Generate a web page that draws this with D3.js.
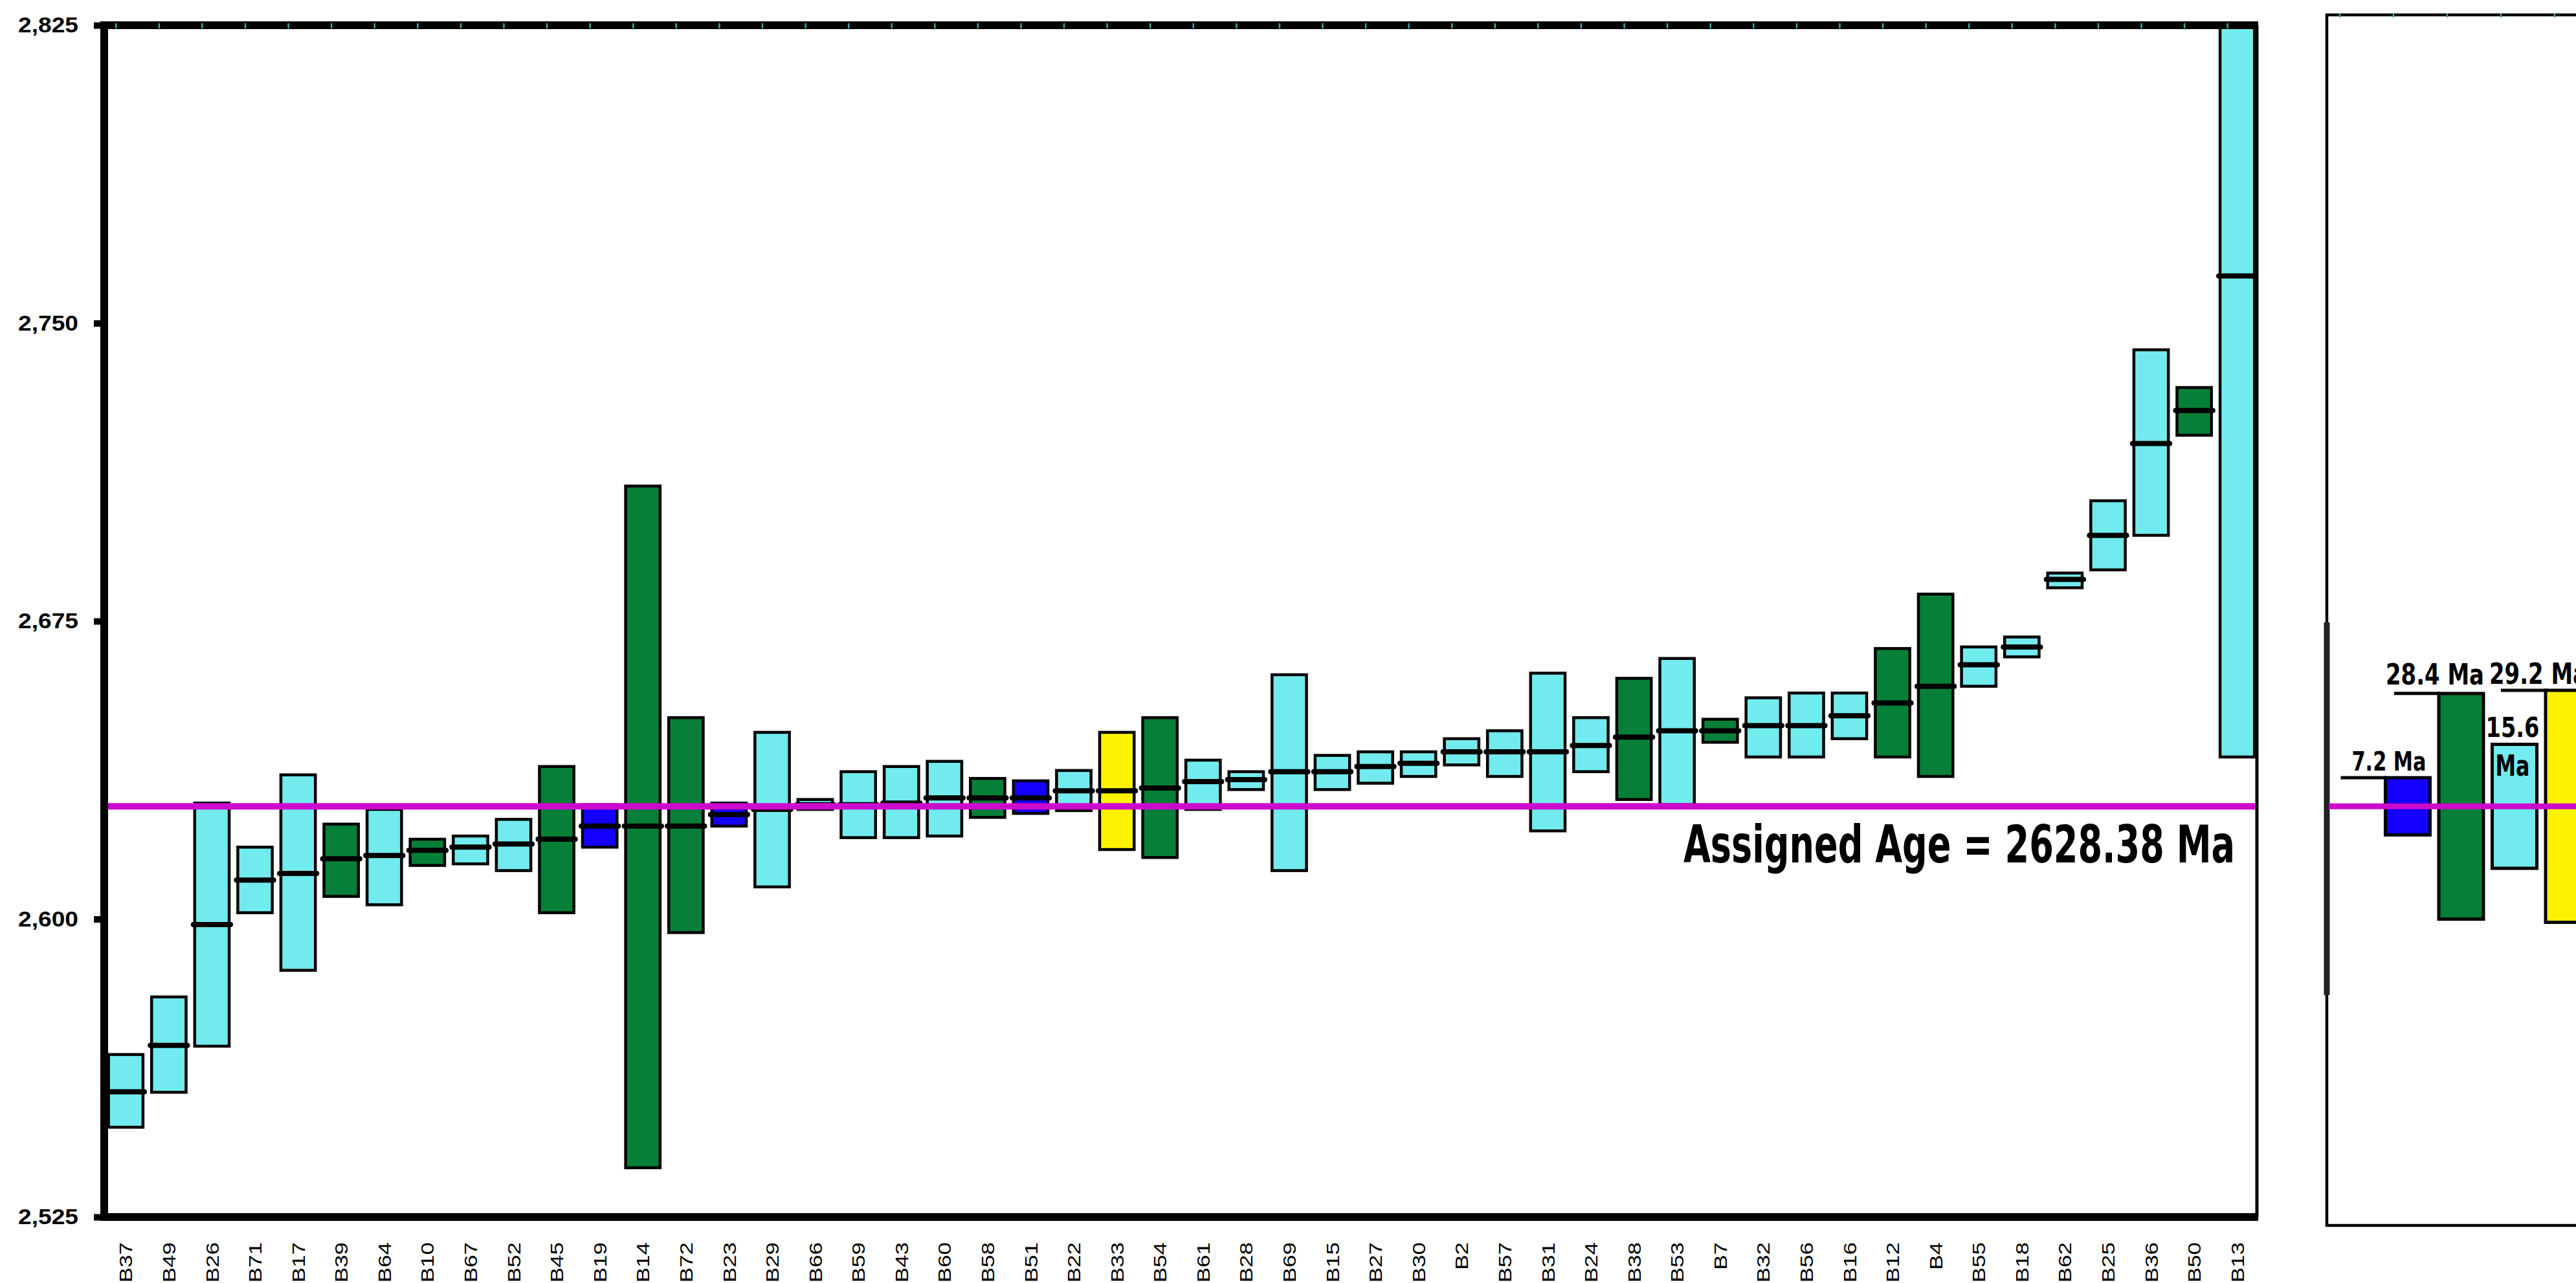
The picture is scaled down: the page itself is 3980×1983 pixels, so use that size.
<!DOCTYPE html>
<html>
<head>
<meta charset="utf-8">
<script src="https://cdn.jsdelivr.net/npm/d3@7/dist/d3.min.js"></script>
<style>
  html, body { margin: 0; padding: 0; background: #fff; }
  svg { display: block; }
</style>
</head>
<body>
<script>
// ---------------- DATA ----------------
const samples = ["B37","B49","B26","B71","B17","B39","B64","B10","B67","B52","B45","B19","B14","B72","B23","B29","B66","B59","B43","B60","B58","B51","B22","B33","B54","B61","B28","B69","B15","B27","B30","B2","B57","B31","B24","B38","B53","B7","B32","B56","B16","B12","B4","B55","B18","B62","B25","B36","B50","B13"];
const lowAges = [2547.6,2556.4,2568.0,2601.6,2587.1,2605.7,2603.6,2613.5,2613.9,2612.2,2601.6,2618.1,2537.4,2596.6,2623.4,2608.1,2627.6,2620.5,2620.5,2620.9,2625.6,2626.6,2627.3,2617.5,2615.5,2627.6,2632.6,2612.2,2632.6,2634.2,2635.9,2638.8,2635.9,2622.2,2637.1,2630.1,2628.8,2644.5,2640.8,2640.8,2645.4,2640.8,2635.9,2658.6,2666.0,2683.4,2687.9,2696.6,2721.8,2640.8];
const meanAges = [2556.5,2568.2,2598.6,2609.8,2611.5,2615.2,2616.0,2617.3,2618.1,2618.9,2620.1,2623.4,2623.4,2623.4,2626.3,2627.6,2628.8,2628.8,2629.2,2630.5,2630.5,2630.5,2632.3,2632.3,2633.0,2634.6,2635.1,2637.1,2637.1,2638.4,2639.2,2642.1,2642.1,2642.1,2643.7,2645.8,2647.4,2647.4,2648.7,2648.7,2651.2,2654.4,2658.6,2664.0,2668.5,2685.5,2696.6,2719.7,2728.0,2761.9];
const highAges = [2565.9,2580.4,2629.2,2618.1,2636.3,2623.9,2627.6,2620.1,2620.9,2625.1,2638.4,2628.8,2709.0,2650.7,2629.2,2647.0,2630.1,2637.1,2638.4,2639.7,2635.4,2634.8,2637.4,2647.0,2650.7,2640.0,2637.1,2661.5,2641.2,2642.1,2642.1,2645.4,2647.4,2661.9,2650.7,2660.6,2665.6,2650.3,2655.7,2656.9,2656.9,2668.1,2681.8,2668.5,2671.0,2687.1,2705.3,2743.3,2733.8,2825.0];
const groups = ["c","c","c","c","c","g","c","g","c","c","g","b","g","g","b","c","c","c","c","c","g","b","c","y","g","c","c","c","c","c","c","c","c","c","c","g","c","g","c","c","c","g","g","c","c","c","c","c","g","c"];
const yTicks = [2525, 2600, 2675, 2750, 2825];
const assignedAge = 2628.38;
const assignedLabel = "Assigned Age = 2628.38 Ma";

const panelKeys = ["blue","green","cyan","yellow"];
const panelErrors = [7.2, 28.4, 15.6, 29.2];

// ---------------- STYLE ----------------
const colors = { c: "#72ebee", g: "#067f38", b: "#1400ff", y: "#fff200" };
const panelColors = ["#1400ff", "#067f38", "#72ebee", "#fff200"];
const magenta = "#cc0acc";
const condensed = "'Liberation Sans Narrow','DejaVu Sans Condensed','Roboto',sans-serif";

const W = 3980, H = 1983;
const svg = d3.select("body").append("svg").attr("width", W).attr("height", H);
svg.append("rect").attr("width", W).attr("height", H).attr("fill", "#fff");

// ---------------- MAIN PANEL ----------------
const plot = { left: 161, right: 3487, top: 39, bottom: 1881 };
const y = d3.scaleLinear().domain([2525, 2825]).range([plot.bottom, plot.top]);
const x = d3.scaleBand().domain(samples).range([plot.left, 3490]).paddingInner(0.2).paddingOuter(0.1);

const data = samples.map((s, i) => ({ s, lo: lowAges[i], mid: meanAges[i], hi: highAges[i], g: groups[i] }));

svg.append("defs").append("clipPath").attr("id", "clipMain")
  .append("rect").attr("x", plot.left).attr("y", plot.top).attr("width", plot.right - plot.left).attr("height", plot.bottom - plot.top);

const gBars = svg.append("g").attr("clip-path", "url(#clipMain)");
gBars.selectAll("rect.bar").data(data).join("rect")
  .attr("class", "bar")
  .attr("x", d => x(d.s))
  .attr("width", x.bandwidth())
  .attr("y", d => y(d.hi))
  .attr("height", d => y(d.lo) - y(d.hi))
  .attr("fill", d => colors[d.g])
  .attr("stroke", "#000")
  .attr("stroke-width", 4.5);

gBars.selectAll("line.med").data(data).join("line")
  .attr("class", "med")
  .attr("x1", d => x(d.s) - 2)
  .attr("x2", d => x(d.s) + x.bandwidth() + 2)
  .attr("y1", d => y(d.mid))
  .attr("y2", d => y(d.mid))
  .attr("stroke", "#000")
  .attr("stroke-width", 8)
  .attr("stroke-linecap", "round");

// assigned age line
svg.append("line")
  .attr("x1", plot.left).attr("x2", plot.right)
  .attr("y1", y(assignedAge)).attr("y2", y(assignedAge))
  .attr("stroke", magenta).attr("stroke-width", 10);

// frame
svg.append("line").attr("x1", plot.right).attr("x2", plot.right).attr("y1", plot.top).attr("y2", plot.bottom)
  .attr("stroke", "#000").attr("stroke-width", 5);
svg.append("line").attr("x1", plot.left - 6).attr("x2", plot.right + 2).attr("y1", plot.top).attr("y2", plot.top)
  .attr("stroke", "#000").attr("stroke-width", 12);

// small teal marks on top border
svg.append("g").selectAll("line").data(samples).join("line")
  .attr("x1", d => x(d) + x.bandwidth() / 2 - 15)
  .attr("x2", d => x(d) + x.bandwidth() / 2 - 15)
  .attr("y1", plot.top - 3).attr("y2", plot.top + 5)
  .attr("stroke", "#3aa6a6").attr("stroke-width", 2.5);

// y axis
const yAxis = svg.append("g").attr("transform", `translate(${plot.left},0)`)
  .call(d3.axisLeft(y).tickValues(yTicks).tickFormat(d3.format(",")).tickSize(16).tickPadding(24));
yAxis.select(".domain").attr("stroke", "#000").attr("stroke-width", 12)
  .attr("d", `M0,${plot.top - 6}V${plot.bottom + 6}`);
yAxis.selectAll(".tick line").attr("stroke", "#000").attr("stroke-width", 10);
yAxis.selectAll(".tick text")
  .attr("fill", "#000")
  .style("font-family", "'Liberation Sans', Arial, sans-serif")
  .style("font-weight", "bold")
  .style("font-size", "33px")
  .attr("textLength", 93)
  .attr("lengthAdjust", "spacingAndGlyphs");

// x axis
const xAxis = svg.append("g").attr("transform", `translate(0,${plot.bottom})`)
  .call(d3.axisBottom(x).tickSize(0).tickPadding(0));
xAxis.select(".domain").attr("stroke", "#000").attr("stroke-width", 12)
  .attr("d", `M${plot.left - 6},0H${plot.right + 2}`);
xAxis.selectAll(".tick text")
  .attr("fill", "#000")
  .attr("y", 0)
  .attr("dy", null)
  .style("font-family", "'Liberation Sans', Arial, sans-serif")
  .style("font-size", "28px")
  .attr("text-anchor", "end")
  .attr("transform", "translate(0,39) rotate(-90) scale(1.25,1)")
  .attr("dy", "0.36em");

// assigned age label
svg.append("text")
  .attr("x", 3453).attr("y", y(assignedAge) + 87)
  .attr("text-anchor", "end")
  .style("font-family", condensed)
  .style("font-weight", "bold")
  .style("font-size", "80px")
  .attr("textLength", 852)
  .attr("lengthAdjust", "spacingAndGlyphs")
  .attr("fill", "#000")
  .text(assignedLabel);

// ---------------- RIGHT PANEL ----------------
const p2 = { left: 3595, top: 23, bottom: 1894 };
const xp = d3.scaleBand().domain(panelKeys).range([3678.75, 4008.75]).paddingInner(0.164).paddingOuter(0.082);
const pdata = panelKeys.map((k, i) => ({ k, e: panelErrors[i], c: panelColors[i] }));

svg.append("rect").attr("x", p2.left).attr("y", p2.top).attr("width", 600).attr("height", p2.bottom - p2.top)
  .attr("fill", "none").attr("stroke", "#000").attr("stroke-width", 4.5);
svg.append("line").attr("x1", p2.left).attr("x2", p2.left).attr("y1", 962).attr("y2", 1538)
  .attr("stroke", "#222").attr("stroke-width", 9);
svg.append("g").selectAll("line").data([0, 1, 2, 3, 4]).join("line")
  .attr("x1", d => 3615 + d * 83).attr("x2", d => 3615 + d * 83)
  .attr("y1", p2.top - 2).attr("y2", p2.top + 4)
  .attr("stroke", "#3aa6a6").attr("stroke-width", 2.5);

svg.append("g").selectAll("rect").data(pdata).join("rect")
  .attr("x", d => xp(d.k))
  .attr("width", xp.bandwidth())
  .attr("y", d => y(assignedAge + d.e))
  .attr("height", d => y(assignedAge - d.e) - y(assignedAge + d.e))
  .attr("fill", d => d.c)
  .attr("stroke", "#000")
  .attr("stroke-width", 5);

svg.append("line")
  .attr("x1", p2.left + 3).attr("x2", W)
  .attr("y1", y(assignedAge)).attr("y2", y(assignedAge))
  .attr("stroke", magenta).attr("stroke-width", 9);

// leader lines (blue, green, yellow)
svg.append("g").selectAll("line").data(pdata.filter(d => d.k !== "cyan")).join("line")
  .attr("x1", d => xp(d.k) - 69).attr("x2", d => xp(d.k) + 2)
  .attr("y1", d => y(assignedAge + d.e)).attr("y2", d => y(assignedAge + d.e))
  .attr("stroke", "#000").attr("stroke-width", 5);

function lab(txt, xr, yb, size, len) {
  svg.append("text").attr("x", xr).attr("y", yb).attr("text-anchor", "end")
    .style("font-family", condensed).style("font-weight", "bold").style("font-size", size + "px")
    .attr("textLength", len).attr("lengthAdjust", "spacingAndGlyphs").attr("fill", "#000").text(txt);
}
const bw = xp.bandwidth();
lab(panelErrors[0] + " Ma", xp("blue") + bw - 6, y(assignedAge + panelErrors[0]) - 11, 40, 115);
lab(panelErrors[1] + " Ma", xp("green") + bw + 1, y(assignedAge + panelErrors[1]) - 14, 44, 152);
lab(panelErrors[2].toFixed(1), xp("cyan") + bw + 4, y(assignedAge + panelErrors[2]) - 11, 42, 83);
lab("Ma", xp("cyan") + bw - 11, y(assignedAge + panelErrors[2]) + 49, 44, 53);
lab(panelErrors[3] + " Ma", xp("yellow") + bw - 4, y(assignedAge + panelErrors[3]) - 10, 44, 152);
</script>
</body>
</html>
